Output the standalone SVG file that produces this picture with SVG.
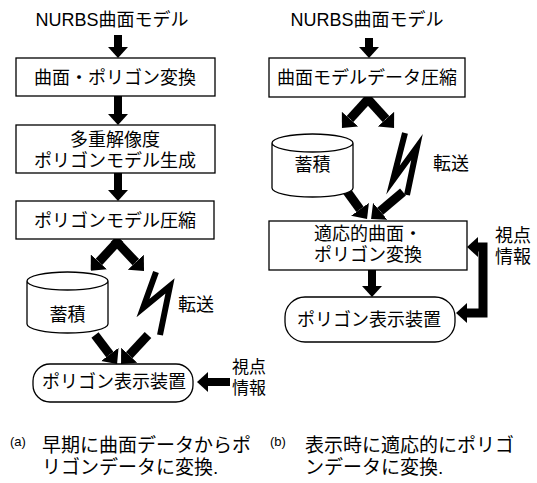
<svg xmlns="http://www.w3.org/2000/svg" width="537" height="483" viewBox="0 0 537 483">
<defs>
<style>
text{font-family:"Liberation Sans","Noto Sans CJK JP",sans-serif;font-size:18px;fill:#000}
.m{text-anchor:middle}
.cap{font-size:19px}
.sm{font-size:13px}
.vp{font-size:17px}
.box{fill:#fff;stroke:#000;stroke-width:1.3}
.ar{fill:none;stroke:#000;stroke-width:9;marker-end:url(#ah)}
.dn{fill:none;stroke:#000;stroke-width:8;marker-end:url(#ahs)}
.bolt{fill:none;stroke:#000;stroke-width:6;stroke-miterlimit:10}
</style>
<marker id="ah" markerUnits="userSpaceOnUse" markerWidth="12" markerHeight="22" viewBox="0 0 12 22" refX="0" refY="11" orient="auto"><path d="M0,0 L12,11 L0,22 z" fill="#000"/></marker>
<marker id="ahs" markerUnits="userSpaceOnUse" markerWidth="11" markerHeight="20" viewBox="0 0 11 20" refX="0" refY="10" orient="auto"><path d="M0,0 L11,10 L0,20 z" fill="#000"/></marker>
</defs>
<rect width="537" height="483" fill="#fff"/>

<g id="connectors">
<line class="dn" x1="118" y1="35" x2="118" y2="47"/>
<line class="dn" x1="118" y1="96" x2="118" y2="114"/>
<line class="dn" x1="118" y1="173" x2="118" y2="190"/>
<line class="ar" x1="120" y1="239" x2="98.9" y2="261.9"/>
<line class="ar" x1="114" y1="239" x2="135.8" y2="262.2"/>
<polyline class="bolt" points="156,272 143,308 170,286 160,335"/>
<line class="ar" x1="95" y1="335" x2="109.8" y2="354.4"/>
<line class="ar" x1="148" y1="335" x2="129.2" y2="355.2"/>
<line class="dn" x1="230" y1="382" x2="208" y2="382"/>
<line class="dn" x1="369" y1="38" x2="369" y2="47"/>
<line class="ar" x1="370" y1="97" x2="350" y2="119.1"/>
<line class="ar" x1="366" y1="97" x2="386" y2="119.1"/>
<polyline class="bolt" points="405,133 393,180 417,147 407,195"/>
<line class="ar" x1="346" y1="190" x2="360" y2="209.3"/>
<line class="ar" x1="403" y1="192" x2="380.2" y2="211.3"/>
<line class="dn" x1="372" y1="270" x2="372" y2="286"/>
<polyline fill="none" stroke="#000" stroke-width="9" points="478,247 483,247 483,313 467,313" marker-end="url(#ahs)"/>
<line class="dn" x1="487" y1="247" x2="478" y2="247"/>
</g>

<g id="title-a"><text class="m" x="112" y="26">NURBS曲面モデル</text></g>
<g id="a-convert"><rect class="box" x="16" y="58" width="199" height="38"/><text class="m" x="115" y="84">曲面・ポリゴン変換</text></g>
<g id="a-multires"><rect class="box" x="16" y="125" width="199" height="48"/><text class="m" x="115" y="146">多重解像度</text><text class="m" x="115" y="167">ポリゴンモデル生成</text></g>
<g id="a-compress"><rect class="box" x="16" y="201" width="198" height="38"/><text class="m" x="115" y="227">ポリゴンモデル圧縮</text></g>
<g id="a-storage"><path class="box" d="M27,281 L27,324 A40.5,9 0 0 0 108,324 L108,281 A40.5,9 0 0 0 27,281 A40.5,9 0 0 0 108,281"/><text class="m" x="67.5" y="321">蓄積</text></g>
<g id="a-transfer"><text x="178" y="311">転送</text></g>
<g id="a-display"><rect class="box" x="33" y="364" width="160" height="38" rx="17"/><text class="m" x="114" y="388">ポリゴン表示装置</text></g>
<g id="a-viewpoint"><text class="vp" x="232" y="373">視点</text><text class="vp" x="232" y="394">情報</text></g>
<g id="caption-a"><text class="sm" x="10" y="446">(a)</text><text class="cap" x="42" y="452">早期に曲面データからポ</text><text class="cap" x="42" y="474">リゴンデータに変換.</text></g>

<g id="title-b"><text class="m" x="367" y="26">NURBS曲面モデル</text></g>
<g id="b-compress"><rect class="box" x="269" y="58" width="196" height="39"/><text class="m" x="367" y="84">曲面モデルデータ圧縮</text></g>
<g id="b-storage"><path class="box" d="M272,143 L272,188 A40.5,9 0 0 0 353,188 L353,143 A40.5,9 0 0 0 272,143 A40.5,9 0 0 0 353,143"/><text class="m" x="312.5" y="171">蓄積</text></g>
<g id="b-transfer"><text x="433" y="170">転送</text></g>
<g id="b-adaptive"><rect class="box" x="269" y="221" width="198" height="49"/><text class="m" x="368" y="240">適応的曲面・</text><text class="m" x="368" y="261">ポリゴン変換</text></g>
<g id="b-display"><rect class="box" x="285" y="297" width="170" height="45" rx="20"/><text class="m" x="369" y="326">ポリゴン表示装置</text></g>
<g id="b-viewpoint"><text x="495" y="242">視点</text><text x="495" y="263">情報</text></g>
<g id="caption-b"><text class="sm" x="270" y="446">(b)</text><text class="cap" x="305" y="452">表示時に適応的にポリゴ</text><text class="cap" x="305" y="474">ンデータに変換.</text></g>
</svg>
